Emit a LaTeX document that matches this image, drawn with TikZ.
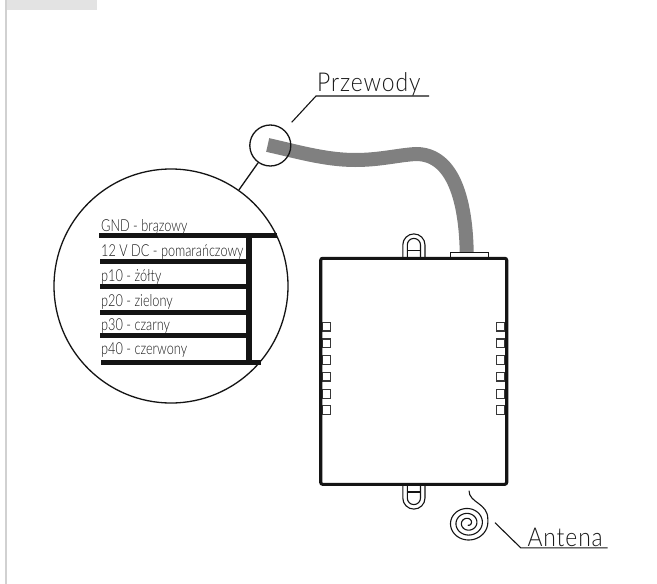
\documentclass[tikz,border=0pt]{standalone}
\usepackage{fontspec}
\setmainfont{Lato Light}[FakeStretch=0.77]
\newfontfamily\calloutfont{Lato Light}[LetterSpace=3.5,FakeStretch=0.88]
\definecolor{inkc}{HTML}{141414}
\definecolor{textc}{HTML}{1A1A1A}
\definecolor{wirec}{HTML}{808080}
\tikzset{
  x=1pt,y=-1pt,
  thin line/.style={draw=inkc,line width=1.1pt},
  body line/.style={draw=inkc,line width=3.1pt,rounded corners=2pt},
  core/.style={draw=inkc,line width=5.4pt},
  lens/.style={circle,draw=inkc,line width=1.3pt,inner sep=0pt},
  wirelabel/.style={anchor=base west,inner sep=0pt,text=textc,font=\fontsize{16.5}{16.5}\selectfont},
  callout/.style={anchor=base west,inner sep=0pt,text=textc,font=\calloutfont\fontsize{26}{26}\selectfont},
  slot/.style={draw=inkc!85,line width=1.2pt,fill=white},
}
\begin{document}
\begin{tikzpicture}
\useasboundingbox (0,0) rectangle (657,584);
\fill[white] (0,0) rectangle (657,584);
\fill[black!11] (7,0) rectangle (97,10);
\fill[black!18] (5,0) rectangle (7,584);
% cable
\coordinate (cableA) at (267.7,145);
\coordinate (cableB) at (466.7,252.5);
\draw[wirec,line width=14pt] (cableA) .. controls (295,151) and (325,160) .. (355,160)
  .. controls (380,160) and (398,155) .. (416,154)
  .. controls (455,154) and (466,205) .. (cableB);
% device lugs
\draw[thin line] (402.8,257) -- (402.8,245) arc[start angle=180,end angle=360,radius=11.1] -- (425,257);
\draw[thin line] (407.3,257) -- (407.3,245) arc[start angle=180,end angle=360,radius=6.6] -- (420.5,257);
\draw[thin line] (407.3,250.7) -- (420.5,250.7);
\draw[thin line] (402.8,486) -- (402.8,498) arc[start angle=180,end angle=0,radius=11.1] -- (425,486);
\draw[thin line] (407.3,486) -- (407.3,498) arc[start angle=180,end angle=0,radius=6.6] -- (420.5,486);
\draw[thin line] (407.3,492) -- (420.5,492);
% gland
\draw[thin line,fill=white] (450.8,258) -- (450.8,252.8) -- (488.3,252.8) -- (488.3,258);
% slots
\foreach \y in {326.7,343.3,360,376.7,394,410}{
  \draw[slot] (322,\y-4.3) rectangle (330.5,\y+4.3);
  \draw[slot] (496.2,\y-4.3) rectangle (505,\y+4.3);
}
% device body
\node[body line,inner sep=0pt,minimum width=186pt,minimum height=226pt] (device) at (413.7,371.3) {};
% antenna
\coordinate (antTop) at (469,490.7);
\draw[thin line,line join=round] (antTop) .. controls (469,503) and (488,503) .. (487.8,519)
  -- plot[domain=-5:1170,samples=260,variable=\t] ({467.8+(20-\t*0.0152)*cos(\t)},{523+(18.2-\t*0.0137)*sin(\t)});
% callouts
\node[callout] (przewody) at (317,91.7) {Przewody};
\coordinate (pzA) at (316,96);
\coordinate (pzB) at (429,96);
\coordinate (pzC) at (291.7,122.3);
\draw[thin line] (pzB) -- (pzA) -- (pzC);
\node[callout] (antena) at (527.3,546) {Antena};
\coordinate (anA) at (520.7,547.8);
\coordinate (anB) at (607.7,547.8);
\coordinate (anC) at (495,522.7);
\draw[thin line] (anB) -- (anA) -- (anC);
% lenses
\node[lens,minimum size=41pt] (small) at (270.3,145.5) {};
\node[lens,minimum size=234pt] (big) at (171,286) {};
\draw[thin line,line width=1.3pt] (small) -- (big);
% wires
\coordinate (g1) at (99,235.3); \coordinate (g2) at (277.3,235.3);
\coordinate (v1) at (100,261.3); \coordinate (v2) at (249,261.3);
\coordinate (a1) at (100,286.7); \coordinate (a2) at (249,286.7);
\coordinate (b1) at (100,312.3); \coordinate (b2) at (249,312.3);
\coordinate (c1) at (100,335.7); \coordinate (c2) at (249,335.7);
\coordinate (d1) at (101,362.7); \coordinate (d2) at (261,362.7);
\coordinate (bt) at (249,235.3);
\coordinate (bb) at (249,362.7);
\foreach \p/\q in {g1/g2,v1/v2,a1/a2,b1/b2,c1/c2,d1/d2}{\draw[core] (\p) -- (\q);}
\draw[core,line width=6pt] (bt) -- (bb);
\node[wirelabel] (t1) at (101,231.7) {GND - brązowy};
\node[wirelabel] (t2) at (101,256.7) {12 V DC - pomarańczowy};
\node[wirelabel] (t3) at (101,281) {p10 - żółty};
\node[wirelabel] (t4) at (101,306.7) {p20 - zielony};
\node[wirelabel] (t5) at (101,330) {p30 - czarny};
\node[wirelabel] (t6) at (101,354.3) {p40 - czerwony};
\end{tikzpicture}
\end{document}
